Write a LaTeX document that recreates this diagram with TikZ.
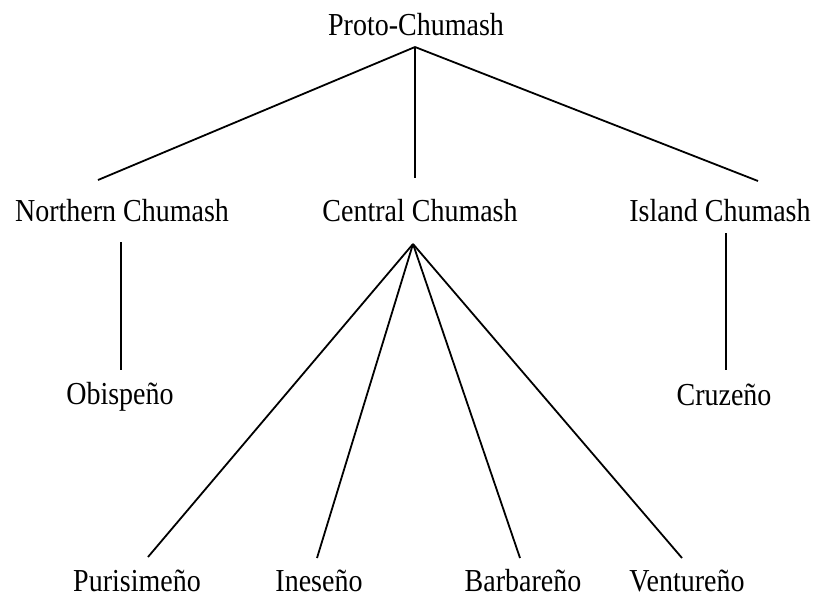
\documentclass[tikz,border=0pt]{standalone}
\usepackage{fontspec}
\setmainfont{Liberation Serif}[FakeStretch=0.875]
\begin{document}
\begin{tikzpicture}[x=0.5pt,y=-0.5pt,line width=0.9pt,
  lang/.style={anchor=base,inner sep=0pt,font=\fontsize{16}{18}\selectfont}]
\useasboundingbox (0,0) rectangle (819,595);
\node[lang] (proto) at (416,35) {Proto-Chumash};
\node[lang] (north) at (122,221) {Northern Chumash};
\node[lang] (central) at (420,221) {Central Chumash};
\node[lang] (island) at (720,221) {Island Chumash};
\node[lang] (obisp) at (120,404) {Obispeño};
\node[lang] (cruz) at (724,405) {Cruzeño};
\node[lang] (puris) at (137,591) {Purisimeño};
\node[lang] (ines) at (319,591) {Ineseño};
\node[lang] (barb) at (523,591) {Barbareño};
\node[lang] (vent) at (687,591) {Ventureño};
\coordinate (protoTip) at (415,47);
\coordinate (northTop) at (98,180);
\coordinate (centralTop) at (415,178);
\coordinate (islandTop) at (758,181);
\coordinate (northFoot) at (121,242);
\coordinate (obispTop) at (121,370);
\coordinate (islandFoot) at (726,233);
\coordinate (cruzTop) at (726,370);
\coordinate (centralFoot) at (413,244);
\coordinate (purisTop) at (148,557);
\coordinate (inesTop) at (317,558);
\coordinate (barbTop) at (520,558);
\coordinate (ventTop) at (682,558);
\draw (protoTip) -- (northTop);
\draw (protoTip) -- (centralTop);
\draw (protoTip) -- (islandTop);
\draw (northFoot) -- (obispTop);
\draw (islandFoot) -- (cruzTop);
\draw (centralFoot) -- (purisTop);
\draw (centralFoot) -- (inesTop);
\draw (centralFoot) -- (barbTop);
\draw (centralFoot) -- (ventTop);
\end{tikzpicture}
\end{document}
